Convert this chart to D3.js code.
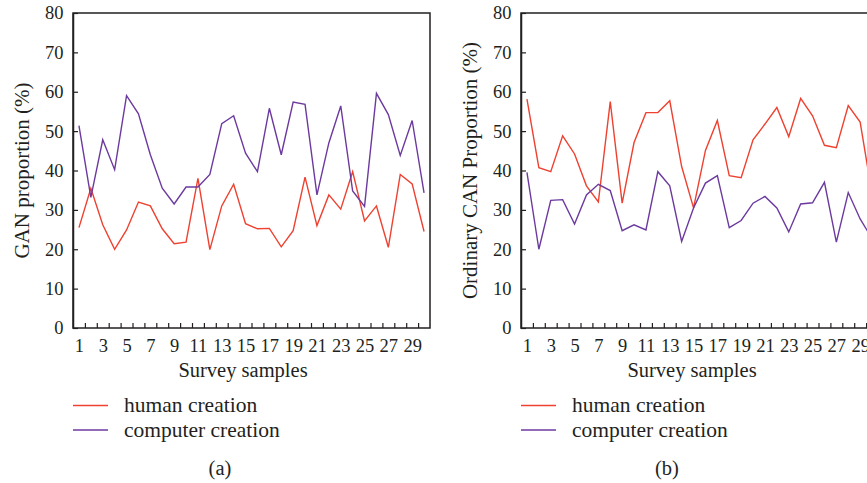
<!DOCTYPE html>
<html>
<head>
<meta charset="utf-8">
<script src="https://cdn.jsdelivr.net/npm/d3@7"></script>
<style>
  html, body { margin: 0; padding: 0; background: #fff; }
  svg { display: block; }
  text { font-family: "Liberation Serif", "Times New Roman", serif; fill: #231f20; }
</style>
</head>
<body>
<svg id="chart" width="867" height="483"></svg>
<script>
// ---- data ----
const samples = d3.range(1, 31);
const xLabels = d3.range(1, 30, 2);
const yTicks = [0, 10, 20, 30, 40, 50, 60, 70, 80];
const seriesNames = ["human creation", "computer creation"];
const panelLabels = ["(a)", "(b)"];
const yTitles = ["GAN proportion (%)", "Ordinary CAN Proportion (%)"];
const xTitle = "Survey samples";

const ganHuman = [25.5, 35.5, 26.2, 20.0, 24.9, 32.0, 31.0, 25.2, 21.4, 21.8, 38.0, 19.9, 31.0, 36.5, 26.5, 25.2, 25.3, 20.6, 24.7, 38.3, 26.0, 33.8, 30.2, 39.7, 27.2, 31.0, 20.5, 39.0, 36.6, 24.5];
const ganComputer = [51.4, 33.2, 47.8, 40.2, 59.0, 54.4, 44.0, 35.5, 31.5, 35.8, 35.8, 39.0, 51.9, 53.9, 44.4, 39.7, 55.8, 44.0, 57.4, 56.8, 33.8, 47.0, 56.4, 34.8, 30.9, 59.6, 54.2, 43.8, 52.7, 34.3];
const canHuman = [58.1, 40.7, 39.7, 48.8, 44.2, 36.1, 32.0, 57.5, 31.7, 47.1, 54.7, 54.7, 57.7, 41.0, 30.5, 45.1, 52.7, 38.7, 38.2, 47.8, 51.8, 56.0, 48.6, 58.3, 53.9, 46.4, 45.8, 56.5, 52.3, 34.0];
const canComputer = [39.5, 20.0, 32.4, 32.6, 26.4, 33.8, 36.5, 34.9, 24.7, 26.2, 24.9, 39.7, 36.1, 22.0, 30.5, 36.8, 38.7, 25.5, 27.3, 31.7, 33.4, 30.5, 24.4, 31.5, 31.8, 37.0, 21.8, 34.4, 27.7, 22.7];

const colors = ["#ee4130", "#6c3a9f"];
const axisColor = "#231f20";

const svg = d3.select("#chart");

const panels = [
  { left: 73, series: [ganHuman, ganComputer], yTitle: yTitles[0], label: panelLabels[0], titleX: 22, labelX: 220, xTitleX: 243 },
  { left: 521, series: [canHuman, canComputer], yTitle: yTitles[1], label: panelLabels[1], titleX: 470, labelX: 667, xTitleX: 692 }
];

const plotW = 357, plotTop = 13, plotBottom = 328;

panels.forEach(p => {
  const x = d3.scaleLinear().domain([0.5, 30.5]).range([p.left, p.left + plotW]);
  const y = d3.scaleLinear().domain([0, 80]).range([plotBottom, plotTop]);
  const g = svg.append("g");

  // lines
  const line = d3.line().x((d, i) => x(samples[i])).y(d => y(d));
  p.series.forEach((s, k) => {
    g.append("path").datum(s)
      .attr("fill", "none")
      .attr("stroke", colors[k])
      .attr("stroke-width", 1.4)
      .attr("stroke-linejoin", "miter")
      .attr("d", line);
  });

  // frame
  g.append("rect")
    .attr("x", x(0.5)).attr("y", y(80))
    .attr("width", x(30.5) - x(0.5)).attr("height", y(0) - y(80))
    .attr("fill", "none").attr("stroke", axisColor).attr("stroke-width", 1.5);

  // y axis
  const ya = g.append("g").attr("transform", `translate(${x(0.5)},0)`)
    .call(d3.axisLeft(y).tickValues(yTicks).tickSize(-5).tickSizeOuter(0).tickPadding(9.5));
  ya.select(".domain").attr("stroke", axisColor).attr("stroke-width", 1.5);
  ya.selectAll(".tick line").attr("stroke", axisColor).attr("stroke-width", 1.2);
  ya.selectAll(".tick text").attr("font-size", 18.5).attr("font-family", "Liberation Serif").attr("fill", axisColor);

  // x axis minor ticks between samples
  const xt = g.append("g").attr("transform", `translate(0,${y(0)})`)
    .call(d3.axisBottom(x).tickValues(d3.range(1.5, 30, 1)).tickSize(-5).tickSizeOuter(0).tickFormat(""));
  xt.select(".domain").remove();
  xt.selectAll(".tick line").attr("stroke", axisColor).attr("stroke-width", 1.2);

  // x labels
  const xl = g.append("g").attr("transform", `translate(0,${y(0)})`)
    .call(d3.axisBottom(x).tickValues(xLabels).tickSize(0).tickPadding(11).tickFormat(d3.format("d")));
  xl.select(".domain").remove();
  xl.selectAll(".tick text").attr("font-size", 18.5).attr("font-family", "Liberation Serif").attr("fill", axisColor);

  // titles
  g.append("text").attr("x", p.xTitleX).attr("y", 377).attr("text-anchor", "middle")
    .attr("font-size", 20.5).text(xTitle);
  g.append("text")
    .attr("transform", `translate(${p.titleX + 7},${(plotTop + plotBottom) / 2}) rotate(-90)`)
    .attr("text-anchor", "middle").attr("font-size", 21).text(p.yTitle);

  // legend
  const ly = [405.5, 430];
  seriesNames.forEach((name, k) => {
    g.append("line").attr("x1", p.left).attr("x2", p.left + 35)
      .attr("y1", ly[k]).attr("y2", ly[k])
      .attr("stroke", colors[k]).attr("stroke-width", 1.4);
    g.append("text").attr("x", p.left + 51).attr("y", ly[k] + 6.5)
      .attr("font-size", 21.5).text(name);
  });

  // panel label
  g.append("text").attr("x", p.labelX).attr("y", 475).attr("text-anchor", "middle")
    .attr("font-size", 20.5).text(p.label);
});
</script>
</body>
</html>
